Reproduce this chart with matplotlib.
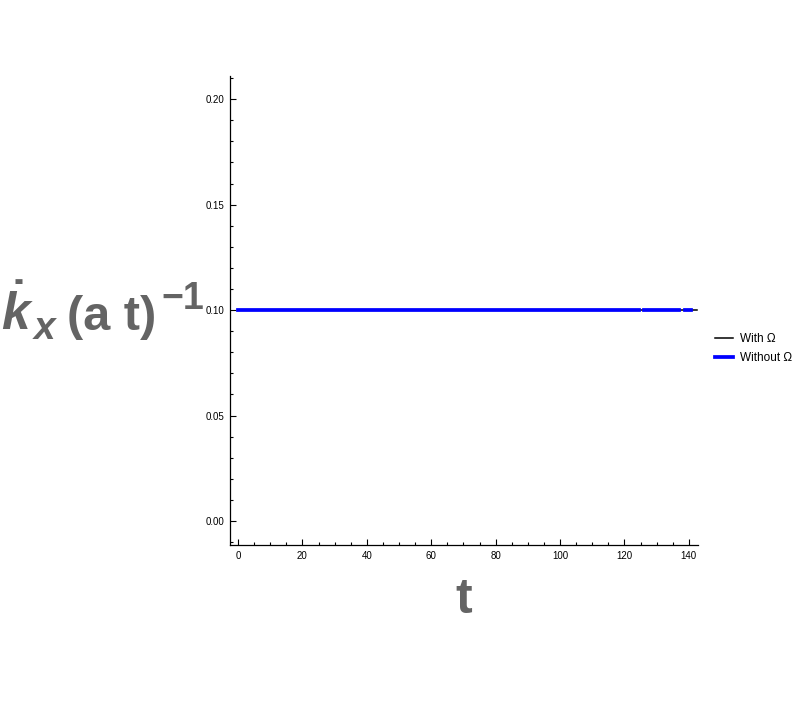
import numpy as np
import matplotlib
matplotlib.use("Agg")
import matplotlib.pyplot as plt
from matplotlib.ticker import MultipleLocator

# data
t_with = [0, 142.5]
k_with = [0.1, 0.1]

# blue line has small gaps near the right end
t_without = [0, 124.6, np.nan, 126.0, 137.0, np.nan, 138.9, 140.6]
k_without = [0.1, 0.1, np.nan, 0.1, 0.1, np.nan, 0.1, 0.1]

x_ticks = [0, 20, 40, 60, 80, 100, 120, 140]
y_ticks = [0.00, 0.05, 0.10, 0.15, 0.20]

plt.rcParams['font.family'] = 'Liberation Sans'
plt.rcParams['mathtext.fontset'] = 'custom'
plt.rcParams['mathtext.rm'] = 'Liberation Sans:bold'
plt.rcParams['mathtext.it'] = 'Liberation Sans:bold:italic'
plt.rcParams['mathtext.bf'] = 'Liberation Sans:bold'

W, H = 804, 702
fig = plt.figure(figsize=(W / 100, H / 100), dpi=100)
ax = fig.add_axes([0.286, 0.2236, 0.582, 0.6681])

ax.plot(t_with, k_with, color='black', lw=1.1, label='With Ω', zorder=2)
ax.plot(t_without, k_without, color=(0, 0, 1), lw=2.7, label='Without Ω', zorder=3)

ax.set_xlim(-2.5, 142.8)
ax.set_ylim(-0.0114, 0.211)
ax.set_xticks(x_ticks)
ax.set_yticks(y_ticks)
ax.set_yticklabels(['%.2f' % v for v in y_ticks])
ax.xaxis.set_minor_locator(MultipleLocator(5))
ax.yaxis.set_minor_locator(MultipleLocator(0.01))
ax.tick_params(which='both', direction='in', labelsize=7, colors='black', width=0.8)
ax.tick_params(which='major', length=4, pad=4)
ax.tick_params(which='minor', length=2.2)

for s in ['top', 'right']:
    ax.spines[s].set_visible(False)
for s in ['left', 'bottom']:
    ax.spines[s].set_linewidth(0.9)


def px_text(x, y, s, size, **kw):
    # place text by pixel position (from the top-left), baseline aligned
    fig.text(x / W, (H - y) / H, s, fontsize=size, color='#646464',
             ha='left', va='baseline', **kw)


# y label: k-dot sub x (a t)^-1
px_text(1, 330, r'$\dot{k}$', 37)
px_text(32, 339, r'$x$', 28)
px_text(67, 330, '(a t)', 35, fontweight='bold')
px_text(161, 309, '\u22121', 27, fontweight='bold')

# x label
px_text(455, 613, 't', 36, fontweight='bold')

ax.legend(loc='center left', bbox_to_anchor=(0.876, 0.503), bbox_transform=fig.transFigure,
          frameon=False, fontsize=8.5, handlelength=1.5, handletextpad=0.6, labelspacing=0.6,
          handleheight=0.7)

fig.savefig('out.png', dpi=100)
